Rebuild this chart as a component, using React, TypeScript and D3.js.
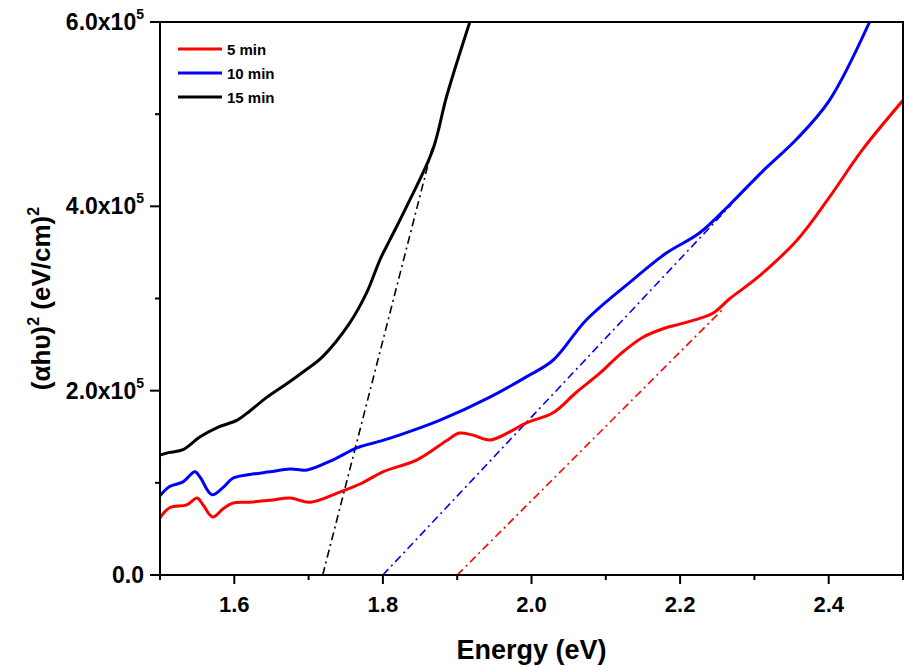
import React, { useEffect, useRef } from "react";
import * as d3 from "d3";

// 5 min (red), values in units of 1e5 (eV/cm)^2
const energy5 = [1.5, 1.513, 1.536, 1.55, 1.558, 1.571, 1.585, 1.598, 1.621, 1.648, 1.675, 1.702, 1.742, 1.77, 1.8, 1.846, 1.886, 1.903, 1.92, 1.944, 1.97, 1.993, 2.029, 2.06, 2.092, 2.12, 2.15, 2.18, 2.203, 2.244, 2.267, 2.303, 2.357, 2.401, 2.445, 2.5];
const value5 = [0.62, 0.73, 0.76, 0.835, 0.76, 0.63, 0.72, 0.78, 0.79, 0.81, 0.835, 0.79, 0.9, 0.99, 1.12, 1.25, 1.46, 1.54, 1.52, 1.465, 1.55, 1.65, 1.76, 1.98, 2.19, 2.4, 2.58, 2.68, 2.73, 2.84, 3.0, 3.22, 3.63, 4.1, 4.61, 5.15];

// 10 min (blue)
const energy10 = [1.5, 1.513, 1.531, 1.547, 1.554, 1.57, 1.585, 1.598, 1.621, 1.648, 1.675, 1.698, 1.733, 1.765, 1.8, 1.823, 1.877, 1.944, 1.993, 2.029, 2.074, 2.136, 2.181, 2.226, 2.267, 2.311, 2.357, 2.401, 2.455];
const value10 = [0.86, 0.96, 1.01, 1.12, 1.06, 0.87, 0.95, 1.05, 1.09, 1.12, 1.15, 1.14, 1.25, 1.38, 1.46, 1.52, 1.68, 1.93, 2.15, 2.33, 2.77, 3.2, 3.49, 3.71, 4.02, 4.38, 4.73, 5.15, 6.0];

// 15 min (black)
const energy15 = [1.5, 1.513, 1.531, 1.554, 1.577, 1.604, 1.621, 1.644, 1.675, 1.692, 1.719, 1.755, 1.778, 1.796, 1.809, 1.832, 1.867, 1.886, 1.917];
const value15 = [1.3, 1.33, 1.36, 1.5, 1.6, 1.68, 1.78, 1.93, 2.1, 2.2, 2.37, 2.73, 3.06, 3.42, 3.63, 4.0, 4.61, 5.2, 6.0];

// linear fits (Tauc extrapolation), [start, end]
const fitEnergy5 = [1.9, 2.257];
const fitValue5 = [0, 2.88];
const fitEnergy10 = [1.8, 2.269];
const fitValue10 = [0, 4.02];
const fitEnergy15 = [1.719, 1.867];
const fitValue15 = [0, 4.65];

const seriesNames = ["5 min", "10 min", "15 min"];
const seriesColors = ["#ff0000", "#0000ff", "#000000"];

const xMajorTicks = [1.6, 1.8, 2.0, 2.2, 2.4];
const xMinorTicks = [1.5, 1.7, 1.9, 2.1, 2.3, 2.5];
const yMajorTicks = [0, 2, 4, 6];
const yTickLabels = ["0.0", "2.0x10", "4.0x10", "6.0x10"];
const yTickExp = ["", "5", "5", "5"];
const yMinorTicks = [1, 3, 5];

const width = 907;
const height = 666;
const margin = { top: 22, right: 4, bottom: 91, left: 160 };
const font = "'Liberation Sans', Arial, sans-serif";

export default function App() {
  const svgRef = useRef<SVGSVGElement>(null);

  useEffect(() => {
    const svg = d3.select(svgRef.current);
    svg.selectAll("*").remove();

    const plotWidth = width - margin.left - margin.right;
    const plotHeight = height - margin.top - margin.bottom;

    const x = d3.scaleLinear().domain([1.5, 2.5]).range([0, plotWidth]);
    const y = d3.scaleLinear().domain([0, 6]).range([plotHeight, 0]);

    svg
      .append("defs")
      .append("clipPath")
      .attr("id", "plot-clip")
      .append("rect")
      .attr("width", plotWidth)
      .attr("height", plotHeight);

    const g = svg
      .append("g")
      .attr("transform", `translate(${margin.left},${margin.top})`);

    const plot = g.append("g").attr("clip-path", "url(#plot-clip)");

    const line = d3
      .line<[number, number]>()
      .x((d) => x(d[0]))
      .y((d) => y(d[1]))
      .curve(d3.curveCatmullRom.alpha(0.5));

    const series = [
      { e: energy5, v: value5, fe: fitEnergy5, fv: fitValue5 },
      { e: energy10, v: value10, fe: fitEnergy10, fv: fitValue10 },
      { e: energy15, v: value15, fe: fitEnergy15, fv: fitValue15 },
    ];

    // fit lines (dash-dot)
    series.forEach((s, i) => {
      plot
        .append("path")
        .attr("d", d3.line()(s.fe.map((e, j) => [x(e), y(s.fv[j])])))
        .attr("fill", "none")
        .attr("stroke", seriesColors[i])
        .attr("stroke-width", 1.6)
        .attr("stroke-dasharray", "8,4,2,4");
    });

    // data curves
    series.forEach((s, i) => {
      plot
        .append("path")
        .datum(s.e.map((e, j) => [e, s.v[j]] as [number, number]))
        .attr("d", line)
        .attr("fill", "none")
        .attr("stroke", seriesColors[i])
        .attr("stroke-width", 3)
        .attr("stroke-linejoin", "round");
    });

    // frame
    g.append("rect")
      .attr("width", plotWidth)
      .attr("height", plotHeight)
      .attr("fill", "none")
      .attr("stroke", "#000")
      .attr("stroke-width", 2);

    // X ticks
    g.selectAll(".xmajor")
      .data(xMajorTicks)
      .enter()
      .append("line")
      .attr("x1", (d) => x(d))
      .attr("x2", (d) => x(d))
      .attr("y1", plotHeight)
      .attr("y2", plotHeight + 9)
      .attr("stroke", "#000")
      .attr("stroke-width", 2);

    g.selectAll(".xminor")
      .data(xMinorTicks)
      .enter()
      .append("line")
      .attr("x1", (d) => x(d))
      .attr("x2", (d) => x(d))
      .attr("y1", plotHeight)
      .attr("y2", plotHeight + 5)
      .attr("stroke", "#000")
      .attr("stroke-width", 2);

    g.selectAll(".xlabel")
      .data(xMajorTicks)
      .enter()
      .append("text")
      .attr("x", (d) => x(d))
      .attr("y", plotHeight + 37)
      .attr("text-anchor", "middle")
      .attr("font-family", font)
      .attr("font-weight", "bold")
      .attr("font-size", 22)
      .text((d) => d3.format(".1f")(d));

    // Y ticks
    g.selectAll(".ymajor")
      .data(yMajorTicks)
      .enter()
      .append("line")
      .attr("x1", -10)
      .attr("x2", 0)
      .attr("y1", (d) => y(d))
      .attr("y2", (d) => y(d))
      .attr("stroke", "#000")
      .attr("stroke-width", 2);

    g.selectAll(".yminor")
      .data(yMinorTicks)
      .enter()
      .append("line")
      .attr("x1", -5)
      .attr("x2", 0)
      .attr("y1", (d) => y(d))
      .attr("y2", (d) => y(d))
      .attr("stroke", "#000")
      .attr("stroke-width", 2);

    const yLabels = g
      .selectAll(".ylabel")
      .data(yMajorTicks)
      .enter()
      .append("text")
      .attr("x", -16)
      .attr("y", (d) => y(d) + 8)
      .attr("text-anchor", "end")
      .attr("font-family", font)
      .attr("font-weight", "bold")
      .attr("font-size", 23);
    yLabels.append("tspan").text((d, i) => yTickLabels[i]);
    yLabels
      .append("tspan")
      .attr("dy", -11)
      .attr("font-size", 14)
      .text((d, i) => yTickExp[i]);

    // axis titles
    g.append("text")
      .attr("x", plotWidth / 2)
      .attr("y", plotHeight + 84)
      .attr("text-anchor", "middle")
      .attr("font-family", font)
      .attr("font-weight", "bold")
      .attr("font-size", 27)
      .text("Energy (eV)");

    const yTitle = svg
      .append("text")
      .attr("transform", `translate(50,${margin.top + plotHeight / 2}) rotate(-90)`)
      .attr("text-anchor", "middle")
      .attr("font-family", font)
      .attr("font-weight", "bold")
      .attr("font-size", 26);
    yTitle.append("tspan").text("(αhυ)");
    yTitle.append("tspan").attr("dy", -11).attr("font-size", 16).text("2");
    yTitle.append("tspan").attr("dy", 11).text(" (eV/cm)");
    yTitle.append("tspan").attr("dy", -11).attr("font-size", 16).text("2");

    // legend
    const legend = g.append("g").attr("transform", "translate(18,27)");
    seriesNames.forEach((name, i) => {
      const row = legend.append("g").attr("transform", `translate(0,${i * 24})`);
      row
        .append("line")
        .attr("x1", 0)
        .attr("x2", 44)
        .attr("stroke", seriesColors[i])
        .attr("stroke-width", 3);
      row
        .append("text")
        .attr("x", 49)
        .attr("y", 5.5)
        .attr("font-family", font)
        .attr("font-weight", "bold")
        .attr("font-size", 15)
        .text(name);
    });
  }, []);

  return (
    <svg
      ref={svgRef}
      width={width}
      height={height}
      style={{ position: "absolute", left: 0, top: 0, background: "#fff" }}
    />
  );
}
